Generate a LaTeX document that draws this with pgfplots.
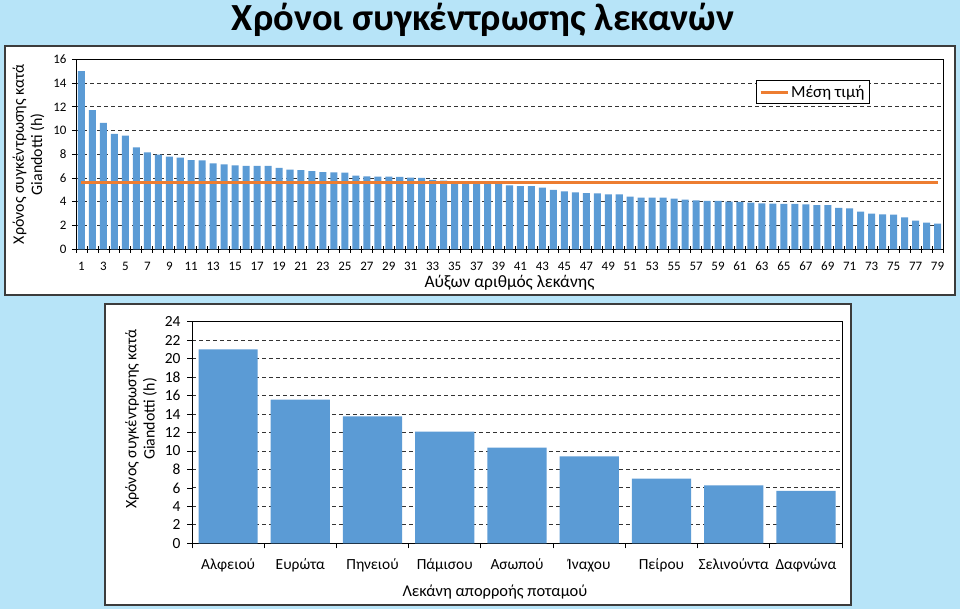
\documentclass[border=0pt]{standalone}
\usepackage{fontspec}
\setmainfont{Carlito}
\usepackage{pgfplots}
\pgfplotsset{compat=1.18}
\definecolor{bgblue}{RGB}{183,228,248}
\definecolor{barblue}{RGB}{91,155,213}
\definecolor{lineorange}{RGB}{237,125,49}
\definecolor{panelframe}{RGB}{60,60,60}
\begin{document}
\begin{tikzpicture}
\useasboundingbox (0,0) rectangle (960bp,-609bp);
\fill[bgblue] (0,0) rectangle (960bp,-609bp);
\draw[panelframe, line width=1.5bp, fill=white] (5bp,-46bp) rectangle (955bp,-295bp);
\draw[panelframe, line width=1.5bp, fill=white] (105bp,-304bp) rectangle (851bp,-605bp);
\node[font=\fontsize{38.5}{42}\selectfont\bfseries] at (483bp,-20bp) {Χρόνοι συγκέντρωσης λεκανών};

\begin{axis}[
  scale only axis, width=867bp, height=190bp,
  at={(76bp,-249.3bp)}, anchor=south west,
  xmin=0.5, xmax=79.5, ymin=0, ymax=16,
  ytick={0,2,...,16}, xtick={1,3,...,79},
  minor xtick={0.5,1.5,...,79.5},
  xtick align=center, ytick align=outside,
  xtick pos=bottom, ytick pos=left,
  major x tick style={draw=none},
  major tick length=4bp, minor tick length=7bp,
  tick style={black, line width=0.8bp},
  axis line style={black, line width=0.8bp},
  ymajorgrids, major grid style={black!80, line width=0.9bp, dash pattern=on 4bp off 3bp},
  /pgf/number format/assume math mode=true,
  tick label style={font=\fontsize{13}{15}\selectfont},
  xticklabel style={yshift=-7bp},
  yticklabel style={xshift=-2bp},
  ylabel={Χρόνος συγκέντρωσης κατά\\Giandotti (h)},
  ylabel style={at={(axis description cs:-0.0548,0.5)}, anchor=center, align=center, font=\fontsize{16}{18.5}\selectfont},
  xlabel={Αύξων αριθμός λεκάνης},
  xlabel style={at={(axis description cs:0.50,-0.178)}, anchor=center, font=\fontsize{17.5}{20}\selectfont},
  legend style={at={(axis description cs:0.784,0.891)}, anchor=north west, draw=black, line width=0.6bp,
    font=\fontsize{17}{20}\selectfont, inner xsep=3bp, inner ysep=3bp},
  legend image code/.code={\draw[#1] (0bp,0bp) -- (27bp,0bp);},
]
\addplot[ybar, bar width=0.64, fill=barblue, draw=none, forget plot] coordinates {
(1,15.0) (2,11.72) (3,10.65) (4,9.72) (5,9.58) (6,8.59) (7,8.17) (8,7.97) (9,7.80) (10,7.72)
(11,7.52) (12,7.49) (13,7.24) (14,7.15) (15,7.07) (16,7.03) (17,7.03) (18,7.03) (19,6.85) (20,6.70)
(21,6.67) (22,6.59) (23,6.49) (24,6.48) (25,6.46) (26,6.20) (27,6.15) (28,6.12) (29,6.12) (30,6.09)
(31,6.04) (32,6.01) (33,5.84) (34,5.78) (35,5.75) (36,5.67) (37,5.64) (38,5.60) (39,5.56) (40,5.39)
(41,5.33) (42,5.33) (43,5.19) (44,5.00) (45,4.88) (46,4.80) (47,4.74) (48,4.72) (49,4.63) (50,4.63)
(51,4.44) (52,4.35) (53,4.35) (54,4.35) (55,4.27) (56,4.18) (57,4.13) (58,4.07) (59,4.07) (60,4.01)
(61,3.99) (62,3.93) (63,3.87) (64,3.85) (65,3.82) (66,3.82) (67,3.79) (68,3.73) (69,3.71) (70,3.48)
(71,3.45) (72,3.17) (73,3.00) (74,2.95) (75,2.92) (76,2.69) (77,2.41) (78,2.25) (79,2.16)
};
\addplot[lineorange, line width=3bp, mark=none] coordinates {(1,5.61) (79,5.61)};
\addlegendentry{Μέση τιμή}
\end{axis}

\begin{axis}[
  scale only axis, width=650bp, height=221.6bp,
  at={(192bp,-543.3bp)}, anchor=south west,
  xmin=-0.5, xmax=8.5, ymin=0, ymax=24,
  ytick={0,2,...,24}, xtick={0,...,8},
  xticklabels={Αλφειού,Ευρώτα,Πηνειού,Πάμισου,Ασωπού,Ίναχου,Πείρου,Σελινούντα,Δαφνώνα},
  minor xtick={-0.5,0.5,...,8.5},
  xtick align=outside, ytick align=outside,
  xtick pos=bottom, ytick pos=left,
  major x tick style={draw=none},
  major tick length=5bp, minor tick length=5bp,
  tick style={black, line width=0.8bp},
  axis line style={black, line width=0.8bp},
  ymajorgrids, major grid style={black!80, line width=0.9bp, dash pattern=on 4bp off 3bp},
  /pgf/number format/assume math mode=true,
  tick label style={font=\fontsize{15.5}{18}\selectfont},
  xticklabel style={yshift=-7bp},
  yticklabel style={xshift=-3bp},
  ylabel={Χρόνος συγκέντρωσης κατά\\Giandotti (h)},
  ylabel style={at={(axis description cs:-0.0785,0.561)}, anchor=center, align=center, font=\fontsize{16}{18.5}\selectfont},
  xlabel={Λεκάνη απορροής ποταμού},
  xlabel style={at={(axis description cs:0.466,-0.22)}, anchor=center, font=\fontsize{16.5}{19}\selectfont},
]
\addplot[ybar, bar width=0.82, fill=barblue, draw=none] coordinates {
(0,21.0) (1,15.55) (2,13.75) (3,12.09) (4,10.36) (5,9.42) (6,7.0) (7,6.28) (8,5.67)
};
\end{axis}
\end{tikzpicture}
\end{document}
